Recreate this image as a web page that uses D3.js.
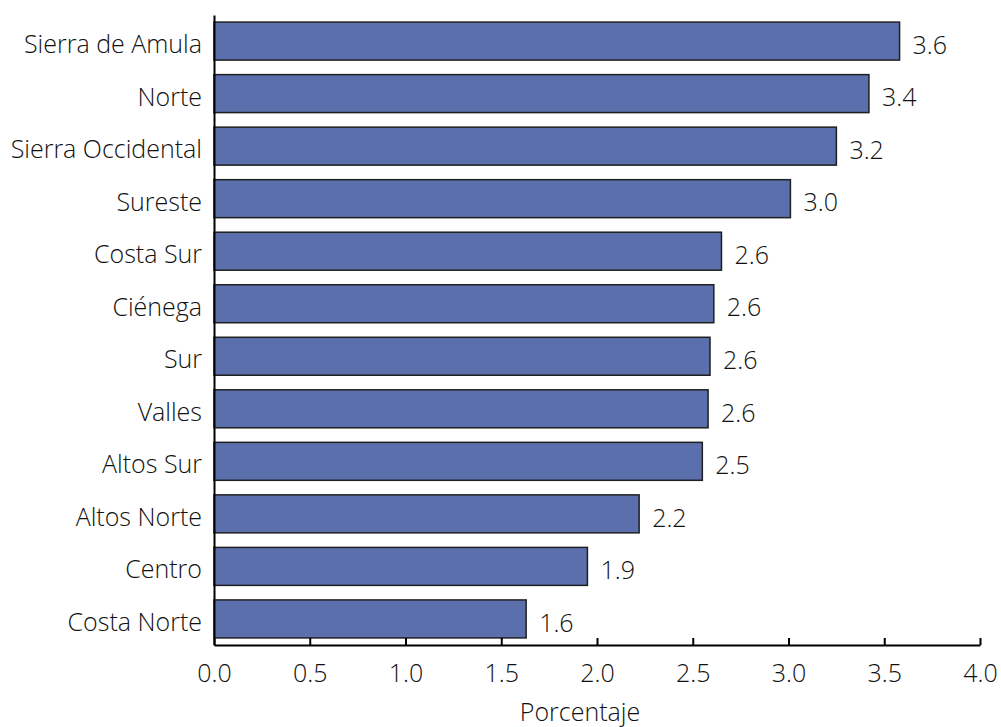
<!DOCTYPE html>
<html>
<head>
<meta charset="utf-8">
<script src="https://d3js.org/d3.v7.min.js"></script>
<style>
  body { margin: 0; background: #fff; }
  svg text { font-family: "Open Sans", "Noto Sans", sans-serif; font-weight: 300; fill: #111; }
</style>
</head>
<body>
<div id="chart"></div>
<script>
// data
const regions = ["Sierra de Amula", "Norte", "Sierra Occidental", "Sureste", "Costa Sur",
  "Ciénega", "Sur", "Valles", "Altos Sur", "Altos Norte", "Centro", "Costa Norte"];
const values = [3.58, 3.42, 3.25, 3.01, 2.65, 2.61, 2.59, 2.58, 2.55, 2.22, 1.95, 1.63];
const valueLabels = ["3.6", "3.4", "3.2", "3.0", "2.6", "2.6", "2.6", "2.6", "2.5", "2.2", "1.9", "1.6"];
const xTicks = [0, 0.5, 1, 1.5, 2, 2.5, 3, 3.5, 4];

const width = 1001, height = 727;
const margin = { left: 214, right: 980, top: 15, bottom: 645 };
const fontSize = "25px";

const svg = d3.select("#chart").append("svg")
  .attr("width", width)
  .attr("height", height);

const x = d3.scaleLinear().domain([0, 4]).range([margin.left, margin.right]);
const y = d3.scaleBand().domain(regions).range([margin.top, margin.bottom])
  .paddingInner(0.277).paddingOuter(0.135);

// bars
svg.selectAll("rect.bar")
  .data(regions)
  .enter()
  .append("rect")
  .attr("class", "bar")
  .attr("x", x(0))
  .attr("y", d => y(d))
  .attr("width", (d, i) => x(values[i]) - x(0))
  .attr("height", y.bandwidth())
  .attr("fill", "#5b6fad")
  .attr("stroke", "#1f1f1f")
  .attr("stroke-width", 1.5);

// value labels
svg.selectAll("text.val")
  .data(regions)
  .enter()
  .append("text")
  .attr("class", "val")
  .attr("x", (d, i) => x(values[i]) + 13)
  .attr("y", d => y(d) + y.bandwidth() / 2 + 4)
  .attr("dy", "0.35em")
  .style("font-size", fontSize)
  .text((d, i) => valueLabels[i]);

// x axis, ticks point inward
const xAxis = svg.append("g")
  .attr("transform", `translate(0,${margin.bottom})`)
  .call(d3.axisBottom(x).tickValues(xTicks).tickFormat(d3.format(".1f"))
    .tickSizeInner(-7).tickSizeOuter(0).tickPadding(19));
xAxis.select(".domain").attr("stroke", "#000").attr("stroke-width", 2);
xAxis.selectAll(".tick line").attr("stroke", "#000").attr("stroke-width", 2);
xAxis.selectAll(".tick text").style("font-size", fontSize).attr("fill", "#111");

// y axis, no ticks
const yAxis = svg.append("g")
  .attr("transform", `translate(${margin.left},0)`)
  .call(d3.axisLeft(y).tickSize(0).tickPadding(12));
yAxis.select(".domain").attr("stroke", "#000").attr("stroke-width", 2);
yAxis.selectAll(".tick text").style("font-size", fontSize).attr("fill", "#111")
  .attr("dy", "0.48em");

svg.append("text")
  .attr("x", 580)
  .attr("y", 712)
  .attr("dy", "0.35em")
  .attr("text-anchor", "middle")
  .style("font-size", fontSize)
  .text("Porcentaje");
</script>
</body>
</html>
